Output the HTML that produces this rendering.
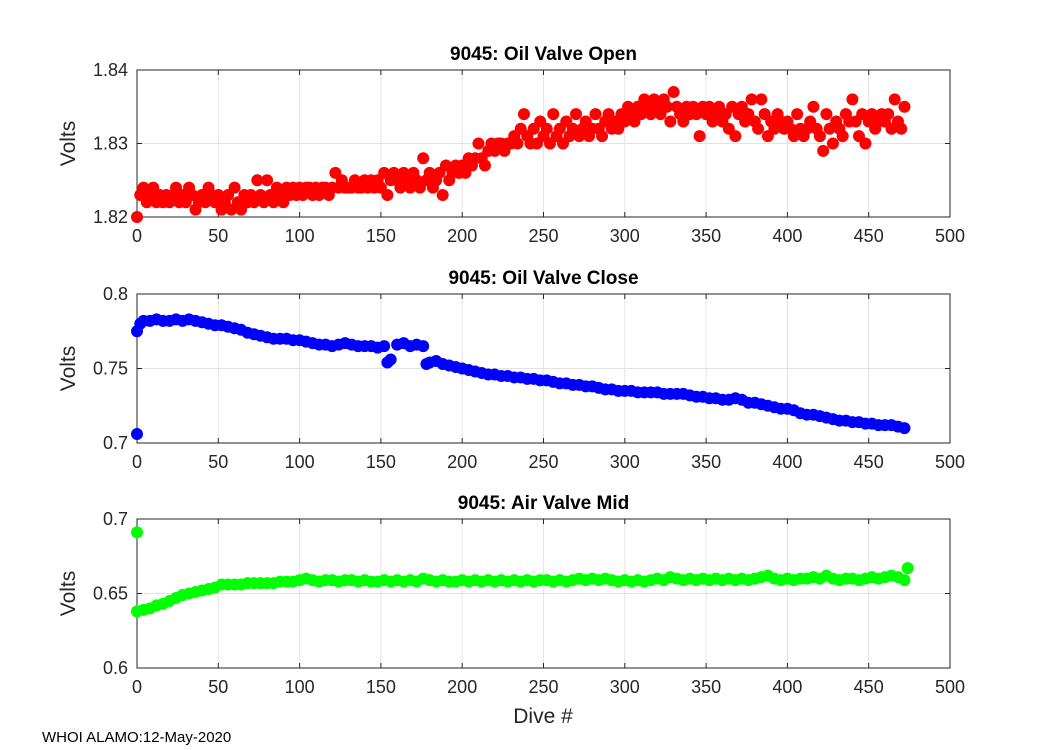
<!DOCTYPE html>
<html><head><meta charset="utf-8"><style>
body{margin:0;background:#fff;}
svg{display:block;font-family:"Liberation Sans",Arial,sans-serif;}
</style></head><body>
<svg id="fig" width="1050" height="750" viewBox="0 0 1050 750"></svg>
<script>
const xTicks=[0,50,100,150,200,250,300,350,400,450,500];
const openTicks=[1.82,1.83,1.84];
const closeTicks=[0.7,0.75,0.8];
const airTicks=[0.6,0.65,0.7];
const openVals=[1.820,1.823,1.824,1.822,1.823,1.824,1.822,1.823,1.822,1.823,
1.822,1.823,1.824,1.822,1.823,1.822,1.824,1.823,1.821,1.822,
1.823,1.822,1.824,1.823,1.822,1.823,1.821,1.822,1.823,1.821,
1.824,1.822,1.821,1.823,1.822,1.823,1.822,1.825,1.823,1.822,
1.825,1.823,1.822,1.824,1.823,1.822,1.824,1.823,1.824,1.823,
1.824,1.823,1.824,1.824,1.823,1.824,1.823,1.824,1.824,1.823,
1.824,1.826,1.824,1.825,1.824,1.824,1.824,1.825,1.824,1.824,
1.825,1.824,1.825,1.824,1.825,1.824,1.826,1.823,1.825,1.826,
1.825,1.824,1.826,1.825,1.824,1.826,1.825,1.824,1.828,1.825,
1.826,1.824,1.825,1.826,1.823,1.827,1.825,1.826,1.827,1.826,
1.827,1.826,1.828,1.827,1.828,1.830,1.828,1.827,1.829,1.830,
1.829,1.830,1.830,1.829,1.830,1.830,1.831,1.830,1.832,1.834,
1.831,1.830,1.832,1.830,1.833,1.831,1.832,1.830,1.834,1.831,
1.832,1.830,1.833,1.831,1.832,1.834,1.831,1.832,1.833,1.831,
1.832,1.834,1.832,1.831,1.833,1.834,1.832,1.833,1.832,1.834,
1.833,1.835,1.834,1.833,1.835,1.834,1.836,1.835,1.834,1.836,
1.835,1.834,1.836,1.835,1.833,1.837,1.835,1.834,1.833,1.835,
1.834,1.835,1.834,1.831,1.835,1.834,1.835,1.833,1.834,1.835,
1.833,1.834,1.832,1.835,1.831,1.834,1.835,1.833,1.834,1.836,
1.833,1.832,1.836,1.834,1.831,1.833,1.832,1.834,1.833,1.832,
1.833,1.832,1.831,1.834,1.832,1.831,1.832,1.833,1.835,1.832,
1.831,1.829,1.834,1.832,1.830,1.833,1.832,1.831,1.834,1.833,
1.836,1.833,1.831,1.834,1.830,1.833,1.834,1.832,1.833,1.834,
1.833,1.834,1.832,1.836,1.833,1.832,1.835];
const closeVals=[0.775,0.782,0.782,0.783,0.782,0.782,0.783,0.782,0.783,0.782,
0.781,0.780,0.779,0.779,0.778,0.777,0.776,0.774,0.773,0.772,
0.771,0.770,0.770,0.770,0.769,0.769,0.768,0.767,0.766,0.766,
0.765,0.766,0.767,0.766,0.765,0.765,0.765,0.764,0.765,0.756,
0.766,0.767,0.765,0.766,0.765,0.754,0.755,0.753,0.752,0.751,
0.750,0.749,0.748,0.747,0.746,0.746,0.745,0.745,0.744,0.744,
0.743,0.743,0.742,0.742,0.741,0.740,0.740,0.739,0.739,0.738,
0.738,0.737,0.736,0.736,0.735,0.735,0.735,0.734,0.734,0.734,
0.734,0.733,0.733,0.733,0.733,0.732,0.731,0.731,0.730,0.730,
0.729,0.729,0.730,0.729,0.727,0.727,0.726,0.725,0.724,0.723,
0.723,0.722,0.720,0.719,0.719,0.718,0.717,0.716,0.715,0.715,
0.714,0.714,0.713,0.713,0.712,0.712,0.712,0.711,0.710];
const closeExtraDives=[0,2,154,178];
const closeExtraVals=[0.706,0.780,0.754,0.753];
const airVals=[0.638,0.639,0.640,0.642,0.643,0.645,0.647,0.649,0.650,0.651,
0.652,0.653,0.654,0.656,0.656,0.656,0.656,0.657,0.657,0.657,
0.657,0.657,0.658,0.658,0.658,0.659,0.660,0.659,0.658,0.659,
0.659,0.658,0.659,0.659,0.658,0.659,0.658,0.658,0.659,0.658,
0.659,0.658,0.659,0.658,0.660,0.659,0.658,0.659,0.658,0.658,
0.659,0.658,0.659,0.658,0.659,0.658,0.659,0.658,0.659,0.658,
0.659,0.658,0.659,0.659,0.658,0.659,0.658,0.659,0.660,0.659,
0.660,0.659,0.660,0.659,0.658,0.659,0.658,0.659,0.658,0.659,
0.660,0.659,0.661,0.660,0.659,0.660,0.659,0.660,0.659,0.660,
0.659,0.660,0.659,0.660,0.659,0.660,0.661,0.662,0.660,0.659,
0.660,0.659,0.660,0.660,0.661,0.660,0.662,0.660,0.659,0.660,
0.660,0.659,0.660,0.661,0.660,0.661,0.662,0.661,0.659];
const airExtraDives=[0,474];
const airExtraVals=[0.691,0.667];

const NS="http://www.w3.org/2000/svg";
const svg=document.getElementById('fig');
function mk(tag,attrs,parent){const e=document.createElementNS(NS,tag);for(const k in attrs)e.setAttribute(k,attrs[k]);(parent||svg).appendChild(e);return e;}
const X0=137,X1=950;
function xs(d){return X0+(d-0)/(500-0)*(X1-X0);}

function panel(key,top,bot,ymin,ymax,yticks,ylabels,title,color,dives,vals){
  const g=mk('g',{});
  
  
  const ys=v=>bot-(v-ymin)/(ymax-ymin)*(bot-top);
  mk('rect',{x:X0,y:top,width:X1-X0,height:bot-top,fill:'#fff'},g);
  xTicks.forEach(t=>{const x=xs(t);
    const l=mk('line',{x1:x,x2:x,y1:top,y2:bot,stroke:'#e3e3e3','stroke-width':1},g);
    
    
    mk('line',{x1:x,x2:x,y1:bot,y2:bot-5,stroke:'#262626'},g);
    mk('line',{x1:x,x2:x,y1:top,y2:top+5,stroke:'#262626'},g);
    const tx=mk('text',{x:x,y:bot+25,'text-anchor':'middle','font-size':18,fill:'#262626'},g);
    tx.textContent=t;
    
    
  });
  yticks.forEach((t,i)=>{const y=ys(t);
    const l=mk('line',{x1:X0,x2:X1,y1:y,y2:y,stroke:'#e3e3e3'},g);
    
    
    mk('line',{x1:X0,x2:X0+5,y1:y,y2:y,stroke:'#262626'},g);
    mk('line',{x1:X1,x2:X1-5,y1:y,y2:y,stroke:'#262626'},g);
    const tx=mk('text',{x:X0-9,y:y+6,'text-anchor':'end','font-size':18,fill:'#262626'},g);
    tx.textContent=ylabels[i];
    
    
  });
  const b=mk('rect',{x:X0,y:top,width:X1-X0,height:bot-top,fill:'none',stroke:'#262626','stroke-width':1},g);
  
  
  dives.forEach((d,i)=>{
    const c=mk('circle',{cx:xs(d),cy:ys(vals[i]),r:6,fill:color},g);
    
    
  });
  const tt=mk('text',{x:(X0+X1)/2,y:top-10,'text-anchor':'middle','font-size':19,'font-weight':'bold',fill:'#000'},g);
  tt.textContent=title;
  
  
  const yl=mk('text',{x:0,y:0,'text-anchor':'middle','font-size':21,fill:'#262626',transform:`translate(75,${(top+bot)/2}) rotate(-90)`},g);
  yl.textContent='Volts';
  
  
}
const openDives=openVals.map((v,i)=>i*2);
const closeDives=closeVals.map((v,i)=>i*4).concat(closeExtraDives);
const closeAll=closeVals.concat(closeExtraVals);
const airDives=airVals.map((v,i)=>i*4).concat(airExtraDives);
const airAll=airVals.concat(airExtraVals);
panel('oil-open',70,217,1.82,1.84,openTicks,['1.82','1.83','1.84'],'9045: Oil Valve Open','#ff0000',openDives,openVals);
panel('oil-close',294,443,0.7,0.8,closeTicks,['0.7','0.75','0.8'],'9045: Oil Valve Close','#0000ff',closeDives,closeAll);
panel('air-mid',519,668,0.6,0.7,airTicks,['0.6','0.65','0.7'],'9045: Air Valve Mid','#00ff00',airDives,airAll);
const xl=mk('text',{x:543,y:723,'text-anchor':'middle','font-size':21,fill:'#262626'});
xl.textContent='Dive #';


const ft=mk('text',{x:42,y:742,'font-size':15,fill:'#000'});
ft.textContent='WHOI ALAMO:12-May-2020';


</script>
</body></html>
